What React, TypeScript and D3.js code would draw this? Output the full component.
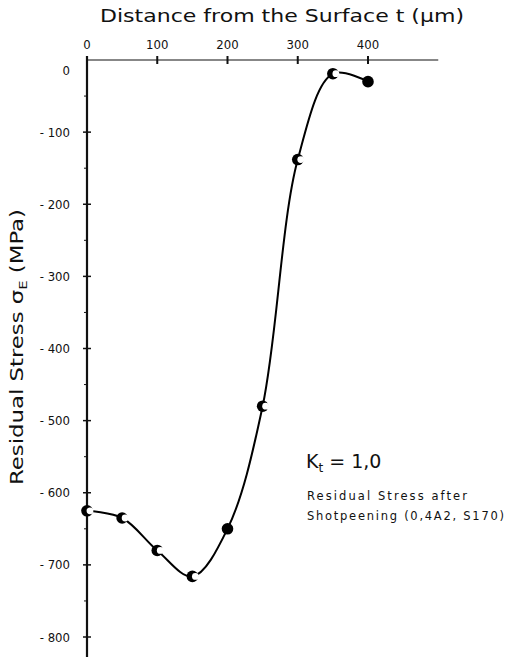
import React from 'react';
import * as d3 from 'd3';

// depth below surface (µm) and measured residual stress (MPa)
const depths = [0, 50, 100, 150, 200, 250, 300, 350, 400];
const stresses = [-625, -635, -680, -716, -650, -480, -138, -19, -30];
const filledMarker = [false, false, false, false, true, false, false, false, true];

const xTicks = [0, 100, 200, 300, 400];
const yTicks = [0, -100, -200, -300, -400, -500, -600, -700, -800];
const yMinorTicks = [-50, -150, -250, -350, -450, -550, -650, -750];

const width = 507, height = 657;
const narrow = '"Liberation Sans Narrow", "DejaVu Sans Condensed", sans-serif';
const plain = '"DejaVu Sans", sans-serif';

const App = () => {
  const x = d3.scaleLinear().domain([0, 400]).range([87, 368]);
  const y = d3.scaleLinear().domain([0, -800]).range([60, 637]);

  const points = depths.map((d, i) => ({ t: d, s: stresses[i], filled: filledMarker[i] }));
  const line = d3.line<{ t: number; s: number }>()
    .x(d => x(d.t))
    .y(d => y(d.s))
    .curve(d3.curveCatmullRom.alpha(0.5));

  return (
    <svg width={width} height={height} style={{ position: 'absolute', left: 0, top: 0, background: '#fff' }}>
      {/* title */}
      <text x={100} y={22} fontFamily={plain} fontSize={18} textLength={364} lengthAdjust="spacingAndGlyphs" fill="#111">
        Distance from the Surface t (µm)
      </text>

      {/* x axis at top */}
      <line x1={x(0)} x2={x(500)} y1={y(0)} y2={y(0)} stroke="#111" strokeWidth={1.2} />
      {xTicks.map(t => (
        <g key={t} transform={`translate(${x(t)},${y(0)})`}>
          <line y1={-4} y2={4} stroke="#111" strokeWidth={2} />
          <text y={-11} textAnchor="middle" fontFamily={narrow} fontSize={13} fill="#111">{t}</text>
        </g>
      ))}

      {/* y axis */}
      <line x1={x(0)} x2={x(0)} y1={y(0) - 4} y2={height} stroke="#111" strokeWidth={2.2} />
      {yTicks.map(v => (
        <g key={v} transform={`translate(${x(0)},${y(v)})`}>
          {v !== 0 && <line x1={-4} x2={4} stroke="#111" strokeWidth={1.5} />}
          <text x={-17} y={v === 0 ? 10 : 0} dy="0.35em" textAnchor="end" fontFamily={narrow} fontSize={13} fill="#111">
            {v === 0 ? '0' : `- ${-v}`}
          </text>
        </g>
      ))}
      {yMinorTicks.map(v => (
        <line key={v} x1={x(0) - 3} x2={x(0)} y1={y(v)} y2={y(v)} stroke="#111" strokeWidth={1} />
      ))}

      {/* y axis title */}
      <text transform="translate(23,347) rotate(-90)" textAnchor="middle" fontFamily={plain} fontSize={17}
        textLength={276} lengthAdjust="spacingAndGlyphs" fill="#111">
        Residual Stress σ<tspan fontSize={11} dy={4}>E</tspan><tspan dy={-4}> (MPa)</tspan>
      </text>

      {/* curve */}
      <path d={line(points) || ''} fill="none" stroke="#000" strokeWidth={2} />

      {/* markers: half-open "C" circles, two solid ones */}
      {points.map((p, i) => (
        <g key={i} transform={`translate(${x(p.t)},${y(p.s)})`}>
          <circle r={5.8} fill="#000" />
          {!p.filled && <circle cx={3} cy={0} r={3.4} fill="#fff" />}
        </g>
      ))}

      {/* annotation */}
      <text x={306} y={468} fontFamily={plain} fontSize={19} fill="#111">
        K<tspan fontSize={12} dy={4}>t</tspan><tspan dy={-4}>  =  1,0</tspan>
      </text>
      <text x={307} y={500} fontFamily={plain} fontSize={11.5} textLength={160} lengthAdjust="spacing" fill="#111">
        Residual Stress after
      </text>
      <text x={307} y={520} fontFamily={plain} fontSize={11.5} textLength={197} lengthAdjust="spacing" fill="#111">
        Shotpeening (0,4A2, S170)
      </text>
    </svg>
  );
};

export default App;
